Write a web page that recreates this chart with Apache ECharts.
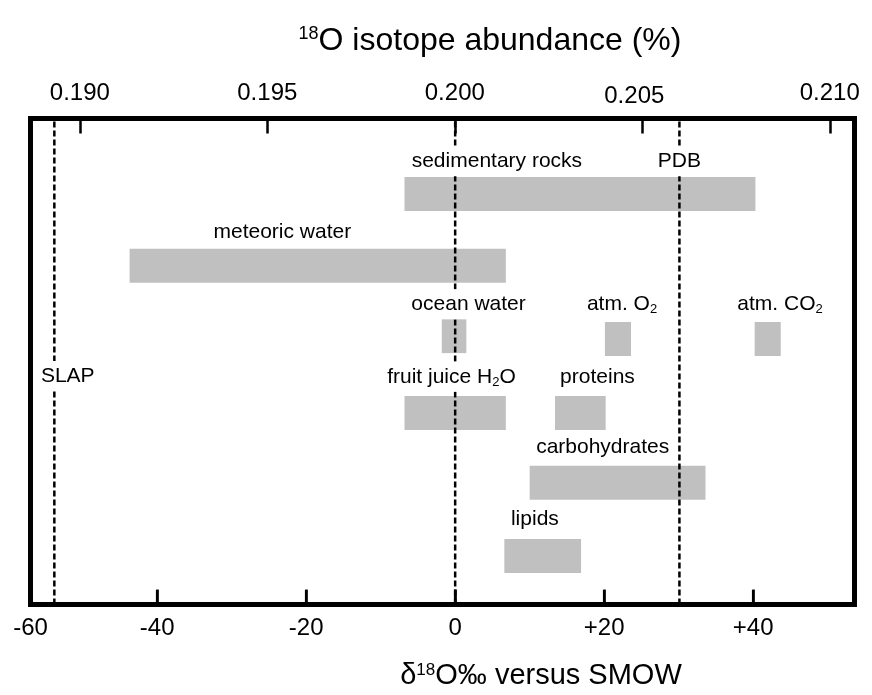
<!DOCTYPE html>
<html><head><meta charset="utf-8">
<script src="https://cdn.jsdelivr.net/npm/echarts@6/dist/echarts.min.js"></script>
<style>html,body{margin:0;padding:0;background:#fff}#c{width:872px;height:695px}</style>
</head><body><div id="c"></div>
<script>
// ---- data ----
const bottomTicks = [-40, -20, 0, 20, 40];
const bottomLabelValues = [-57, -40, -20, 0, 20, 40];
const bottomTickLabels = ['-60', '-40', '-20', '0', '+20', '+40'];
const topTicks = [0.190, 0.195, 0.200, 0.205, 0.210];
const topTickLabels = ['0.190', '0.195', '0.200', '0.205', '0.210'];

const barNames = ['sedimentary rocks', 'meteoric water', 'ocean water', 'atm. O2', 'atm. CO2', 'fruit juice H2O', 'proteins', 'carbohydrates', 'lipids'];
const barStart = [-6.8, -43.7, -1.8, 20.1, 40.2, -6.8, 13.4, 10.0, 6.6];
const barEnd   = [40.3,   6.8,  1.5, 23.6, 43.7,  6.8, 20.2, 33.6, 16.9];
const barRow   = [1.04,  2.03, 3.00, 3.04, 3.04, 4.06, 4.06, 5.02, 6.03];

const refNames  = ['SLAP', 'SMOW', 'PDB'];
const refValues = [-53.8, 0, 30.1];

const labelTexts = ['sedimentary rocks', 'PDB', 'meteoric water', 'ocean water', 'atm. O{s|2}', 'atm. CO{s|2}', 'SLAP', 'fruit juice H{s|2}O', 'proteins', 'carbohydrates', 'lipids'];
const labelX = [5.6, 30.1, -23.2, 1.8, 22.4, 43.6, -52.0, -0.5, 19.1, 19.8, 10.7];
const labelY = [0.59, 0.59, 1.57, 2.56, 2.56, 2.56, 3.55, 3.56, 3.56, 4.53, 5.52];

const topTitle = '{sup|18}O isotope abundance (%)';
const bottomTitle = 'δ{sup|18}O‰ versus SMOW';

// ---- chart ----
const FONT = '"Liberation Sans", Arial, sans-serif';
const Y_MIN = 0, Y_MAX = 6.7;
const TICK_LEN = 0.2;
const chart = echarts.init(document.getElementById('c'), null, {renderer: 'canvas'});

// rows are counted from the top of the frame
const yv = r => Y_MAX - r;
const barData = barNames.map((n, i) => [barStart[i], barEnd[i], yv(barRow[i]), n]);
const labelData = labelTexts.map((t, i) => [labelX[i], yv(labelY[i]), i]);

const refSeries = refValues.map((v, i) => ({
  type: 'line', name: refNames[i], xAxisIndex: 1, yAxisIndex: 0,
  data: [[v, Y_MIN], [v, Y_MAX]], symbol: 'none', silent: true, z: 5,
  lineStyle: {color: '#000', width: 2.5, type: [6, 3]}
}));

const tickSeries = bottomTicks.map(v => ({
  type: 'line', name: 'tick ' + v, xAxisIndex: 1, yAxisIndex: 0,
  data: [[v, Y_MIN], [v, Y_MIN + TICK_LEN]], symbol: 'none', silent: true, z: 6,
  lineStyle: {color: '#000', width: 2.5, type: 'solid'}
}));

const option = {
  animation: false,
  backgroundColor: '#fff',
  grid: {left: 30.5, right: 17.5, top: 118.5, bottom: 90.5, show: true,
         borderColor: '#000', borderWidth: 5, backgroundColor: 'transparent'},
  xAxis: [
    {type: 'value', position: 'top', min: 0.188685, max: 0.210659,
     axisLine: {show: false, onZero: false}, splitLine: {show: false},
     axisTick: {show: true, inside: true, length: 15, customValues: topTicks,
                lineStyle: {color: '#000', width: 2.5}},
     axisLabel: {customValues: topTicks,
                 formatter: v => {
                   const i = topTicks.findIndex(t => Math.abs(t - v) < 1e-9);
                   return i === 3 ? '{o|' + topTickLabels[i] + '}' : topTickLabels[i];
                 },
                 rich: {o: {fontSize: 24, color: '#000', fontFamily: FONT, padding: [0, 16, -3, 0]}},
                 fontSize: 24, color: '#000', fontFamily: FONT, margin: 13}},
    {type: 'value', position: 'bottom', min: -57, max: 53.6,
     axisLine: {show: false, onZero: false}, splitLine: {show: false},
     axisTick: {show: true, inside: true, length: 15, customValues: bottomTicks,
                lineStyle: {color: '#000', width: 2.5}},
     axisLabel: {customValues: bottomLabelValues,
                 formatter: v => bottomTickLabels[bottomLabelValues.indexOf(v)],
                 fontSize: 24, color: '#000', fontFamily: FONT, margin: 12}}
  ],
  yAxis: {type: 'value', min: Y_MIN, max: Y_MAX, show: false},
  graphic: [
    {type: 'text', x: 490, y: 41, style: {text: topTitle, fontSize: 32, fontFamily: FONT, fill: '#000',
      align: 'center', verticalAlign: 'middle',
      rich: {sup: {fontSize: 18, fontFamily: FONT, verticalAlign: 'top', lineHeight: 18, fill: '#000'}}}},
    {type: 'text', x: 541, y: 676, style: {text: bottomTitle, fontSize: 29, fontFamily: FONT, fill: '#000',
      align: 'center', verticalAlign: 'middle',
      rich: {sup: {fontSize: 17, fontFamily: FONT, verticalAlign: 'top', lineHeight: 17, fill: '#000'}}}}
  ],
  series: [
    {type: 'custom', name: 'ranges', xAxisIndex: 1, yAxisIndex: 0, z: 2,
     encode: {x: [0, 1], y: 2},
     data: barData,
     renderItem: (params, api) => {
       const s = api.coord([api.value(0), api.value(2)]);
       const e = api.coord([api.value(1), api.value(2)]);
       const h = 34;
       return {type: 'rect', shape: {x: s[0], y: s[1] - h / 2, width: e[0] - s[0], height: h},
               style: {fill: '#c0c0c0'}};
     }},
    ...refSeries,
    ...tickSeries,
    {type: 'custom', name: 'labels', xAxisIndex: 1, yAxisIndex: 0, z: 10,
     encode: {x: 0, y: 1},
     data: labelData,
     renderItem: (params, api) => {
       const p = api.coord([api.value(0), api.value(1)]);
       const idx = api.value(2);
       return {type: 'text', x: p[0], y: p[1],
         style: {text: labelTexts[idx], fontSize: 21, fontFamily: FONT, fill: '#000',
           align: 'center', verticalAlign: 'middle', lineHeight: 24,
           backgroundColor: '#fff', padding: [3, 2, 3, 2],
           rich: {s: {fontSize: 13, fontFamily: FONT, fill: '#000', verticalAlign: 'bottom', lineHeight: 12}}}};
     }}
  ]
};
chart.setOption(option);
</script>
</body></html>
